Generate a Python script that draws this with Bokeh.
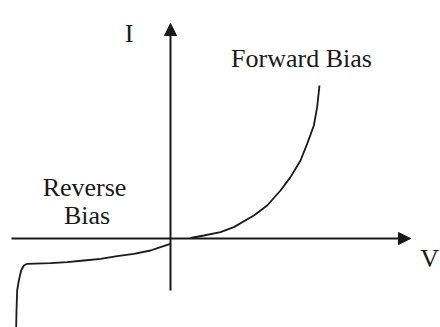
from bokeh.plotting import figure
from bokeh.models import Arrow, NormalHead, ColumnDataSource, Range1d
from bokeh.core.properties import value
from bokeh.embed import file_html
from bokeh.resources import INLINE

# Forward-bias branch (V, I) in arbitrary units
fwd_v = [0.40, 0.667, 1.0, 1.267, 1.667, 1.933, 2.2, 2.4, 2.6, 2.733, 2.867, 2.933, 2.98]
fwd_i = [0.01, 0.06, 0.127, 0.227, 0.46, 0.66, 0.96, 1.227, 1.56, 1.893, 2.26, 2.627, 3.06]

# Reverse-bias branch incl. breakdown
rev_v = [0.0, -0.2, -0.4, -0.733, -1.067, -1.4, -1.733, -2.067, -2.4, -2.867, -2.933,
         -2.987, -3.033, -3.067, -3.08, -3.087]
rev_i = [-0.106, -0.174, -0.24, -0.306, -0.354, -0.406, -0.44, -0.474, -0.494, -0.506,
         -0.54, -0.64, -0.84, -1.04, -1.44, -1.80]

# Axis extents
v_axis = [-3.18, 4.8]
i_axis = [-1.04, 4.3]

labels = ["Forward Bias", "Reverse", "Bias", "I", "V"]
label_x = [2.62, -1.72, -1.67, -0.83, 5.37]
label_y = [3.6, 1.03, 0.46, 4.1, -0.4]
label_align = ["center", "center", "center", "center", "right"]

p = figure(width=440, height=327, output_backend="svg", toolbar_location=None,
           x_axis_location=None, y_axis_location=None, min_border=0,
           x_range=Range1d(-3.4, 5.4), y_range=Range1d(-1.78, 4.76))
p.grid.visible = False
p.outline_line_color = None
p.background_fill_color = "white"
p.border_fill_color = "white"

ink = "#1a1a1a"

p.add_layout(Arrow(end=NormalHead(size=12, fill_color=ink, line_color=ink, line_width=1),
                   x_start=v_axis[0], y_start=0, x_end=v_axis[1], y_end=0,
                   line_color=ink, line_width=2))
p.add_layout(Arrow(end=NormalHead(size=12, fill_color=ink, line_color=ink, line_width=1),
                   x_start=0, y_start=i_axis[0], x_end=0, y_end=i_axis[1],
                   line_color=ink, line_width=2))

p.line(fwd_v, fwd_i, line_color=ink, line_width=1.8)
p.line(rev_v, rev_i, line_color=ink, line_width=1.8)

src = ColumnDataSource(dict(x=label_x, y=label_y, t=labels, a=label_align))
p.text(x="x", y="y", text="t", source=src, text_align="a", text_baseline="alphabetic",
       text_font=value("Liberation Serif"), text_font_size="26px", text_color=ink)

open("out.html", "w").write(file_html(p, INLINE))
